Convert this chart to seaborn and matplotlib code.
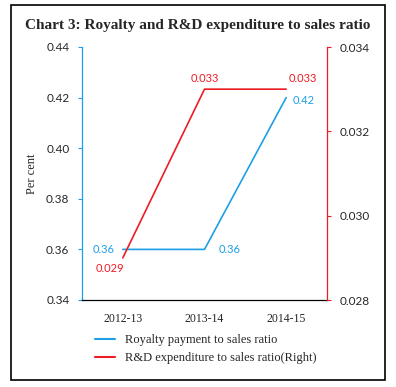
import numpy as np
import pandas as pd
import seaborn as sb
import matplotlib
matplotlib.use("Agg")
import matplotlib.pyplot as plt
from matplotlib.patches import Rectangle
from matplotlib.lines import Line2D

# Date
perioade = ["2012-13", "2013-14", "2014-15"]
royalty = [0.36, 0.36, 0.42]
rd_exp = [0.029, 0.033, 0.033]

albastru = "#1d9fe6"
rosu = "#ec1c24"

df = pd.DataFrame({"poz": np.arange(len(perioade)), "Royalty": royalty, "RD": rd_exp})

sb.set_style("white")
plt.rcParams["font.family"] = ["Lato", "DejaVu Sans"]

fig = plt.figure(figsize=(3.96, 3.87), dpi=100)
ax = fig.add_axes([82 / 396, 1 - 300 / 387, 245 / 396, 253 / 387])
ax2 = ax.twinx()

sb.lineplot(data=df, x="poz", y="Royalty", ax=ax, color=albastru, linewidth=1.2)
sb.lineplot(data=df, x="poz", y="RD", ax=ax2, color=rosu, linewidth=1.2)

ax.set_xlim(-0.5, len(perioade) - 0.5)
ax.set_ylim(0.34, 0.44)
ax.set_yticks(np.arange(0.34, 0.4401, 0.02))
ax.set_yticklabels([f"{v:.2f}" for v in np.arange(0.34, 0.4401, 0.02)])
ax2.set_ylim(0.028, 0.034)
ax2.set_yticks(np.arange(0.028, 0.03401, 0.002))
ax2.set_yticklabels([f"{v:.3f}" for v in np.arange(0.028, 0.03401, 0.002)])

# ticks intre categorii, etichete la mijloc
ax.set_xticks(np.arange(-0.5, len(perioade), 1.0))
ax.set_xticklabels([])
ax.set_xticks(np.arange(len(perioade)), minor=True)
ax.set_xticklabels(perioade, minor=True, family=["Liberation Serif"], fontsize=8.5)
ax.tick_params(axis="x", which="minor", length=0, pad=9)
ax.tick_params(axis="x", which="major", length=3, width=0.8, color="black", direction="out")
ax.tick_params(axis="y", length=3, width=0.8, color=albastru, direction="out", labelsize=8.5, pad=6)
ax2.tick_params(axis="y", length=3, width=0.8, color=rosu, direction="out", labelsize=8.5, pad=6)
ax.set_xlabel("")
ax.set_ylabel("Per cent", family=["Liberation Serif"], fontsize=9, labelpad=6)
ax2.set_ylabel("")

for s in ["top", "right"]:
    ax.spines[s].set_visible(False)
for s in ["top", "left", "bottom"]:
    ax2.spines[s].set_visible(False)
ax.spines["left"].set_color(albastru)
ax.spines["bottom"].set_color("black")
ax.spines["bottom"].set_linewidth(0.9)
ax2.spines["right"].set_color(rosu)
ax2.spines["right"].set_linewidth(0.9)
ax.spines["left"].set_linewidth(0.9)

# etichete de date
off_royalty = [((-6, 0), "right", "center"), ((10, 0), "left", "center"), ((5, -2), "left", "center")]
for i, (off, ha, va) in enumerate(off_royalty):
    ax.annotate(f"{royalty[i]:.2f}", (df["poz"][i], royalty[i]), xytext=off, textcoords="offset points",
                ha=ha, va=va, color=albastru, fontsize=8)
off_rd = [((1, -8), "right", "center"), ((0, 8), "center", "center"), ((2, 8), "left", "center")]
for i, (off, ha, va) in enumerate(off_rd):
    ax2.annotate(f"{rd_exp[i]:.3f}", (df["poz"][i], rd_exp[i]), xytext=off, textcoords="offset points",
                 ha=ha, va=va, color=rosu, fontsize=8)

fig.text(0.5, 1 - 25 / 387, "Chart 3: Royalty and R&D expenditure to sales ratio",
         ha="center", va="center", family=["Liberation Serif"], fontweight="bold", fontsize=11)

handles = [Line2D([], [], color=albastru, linewidth=1.5), Line2D([], [], color=rosu, linewidth=1.5)]
fig.legend(handles, ["Royalty payment to sales ratio", "R&D expenditure to sales ratio(Right)"],
           loc="upper left", bbox_to_anchor=(84 / 396, 1 - 323 / 387), frameon=False,
           prop={"family": "Liberation Serif", "size": 9}, handlelength=1.55, handletextpad=0.8,
           labelspacing=0.5)

fig.patches.append(Rectangle((11 / 396, 1 - 380 / 387), 374 / 396, 375 / 387, transform=fig.transFigure,
                             fill=False, edgecolor="black", linewidth=1.2))

fig.savefig("out.png", dpi=100)
